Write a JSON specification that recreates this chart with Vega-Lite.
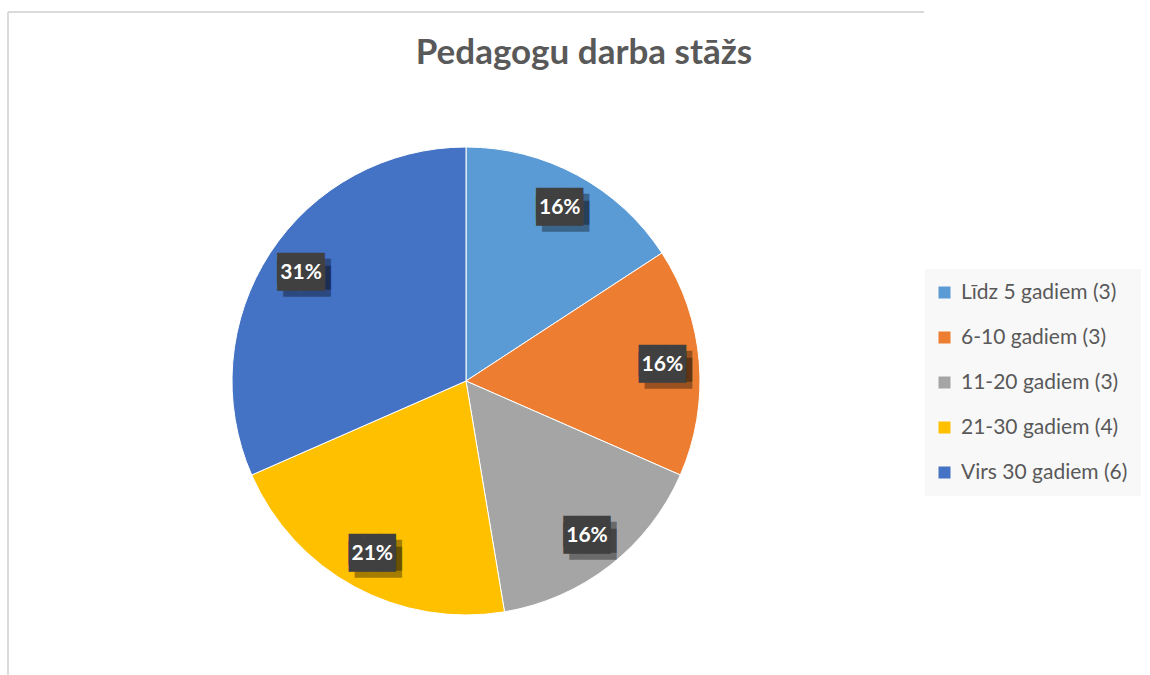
{
  "$schema": "https://vega.github.io/schema/vega-lite/v6.json",
  "width": 916,
  "height": 738,
  "autosize": {"type": "none"},
  "padding": {"left": 8, "top": 12, "right": 226, "bottom": -75},
  "background": "white",
  "view": {"stroke": "#d0d0d0", "strokeWidth": 1.5, "strokeDash": [916, 1654, 738, 0]},
  "title": {
    "text": "Pedagogu darba stāžs",
    "frame": "group",
    "anchor": "middle",
    "dx": 118,
    "offset": -87,
    "baseline": "alphabetic",
    "font": "Lato",
    "fontSize": 35,
    "fontWeight": "bold",
    "color": "#595959"
  },
  "data": {
    "values": [
      {"cat": "Līdz 5 gadiem (3)", "value": 3, "label": "16%", "ord": 1},
      {"cat": "6-10 gadiem (3)", "value": 3, "label": "16%", "ord": 2},
      {"cat": "11-20 gadiem (3)", "value": 3, "label": "16%", "ord": 3},
      {"cat": "21-30 gadiem (4)", "value": 4, "label": "21%", "ord": 4},
      {"cat": "Virs 30 gadiem (6)", "value": 6, "label": "31%", "ord": 5}
    ]
  },
  "encoding": {
    "theta": {"field": "value", "type": "quantitative", "stack": true},
    "order": {"field": "ord", "type": "quantitative"}
  },
  "layer": [
    {
      "mark": {"type": "arc", "outerRadius": 234, "stroke": "white", "strokeWidth": 1},
      "encoding": {
        "color": {
          "field": "cat",
          "type": "nominal",
          "sort": null,
          "scale": {
            "domain": ["Līdz 5 gadiem (3)", "6-10 gadiem (3)", "11-20 gadiem (3)", "21-30 gadiem (4)", "Virs 30 gadiem (6)"],
            "range": ["#5B9BD5", "#ED7D31", "#A5A5A5", "#FFC000", "#4472C4"]
          },
          "legend": {
            "title": null,
            "orient": "none",
            "legendX": 917,
            "legendY": 257,
            "fillColor": "#f8f8f8",
            "padding": 13,
            "symbolType": "square",
            "symbolSize": 144,
            "symbolStrokeWidth": 0,
            "symbolOffset": -4,
            "labelFont": "Lato",
            "labelFontSize": 21,
            "labelColor": "#595959",
            "labelOffset": 6,
            "rowPadding": 23,
            "labelLimit": 300
          }
        }
      }
    },
    {
      "mark": {"type": "text", "radius": 197, "font": "DejaVu Sans Mono", "fontSize": 26, "dx": 6, "dy": 2, "color": "black", "opacity": 0.35, "align": "center", "baseline": "middle"},
      "encoding": {"text": {"value": "███"}}
    },
    {
      "mark": {"type": "text", "radius": 197, "font": "DejaVu Sans Mono", "fontSize": 26, "dx": 6, "dy": 9, "color": "black", "opacity": 0.35, "align": "center", "baseline": "middle"},
      "encoding": {"text": {"value": "███"}}
    },
    {
      "mark": {"type": "text", "radius": 197, "font": "DejaVu Sans Mono", "fontSize": 26, "dy": -4, "color": "#404040", "align": "center", "baseline": "middle"},
      "encoding": {"text": {"value": "███"}}
    },
    {
      "mark": {"type": "text", "radius": 197, "font": "DejaVu Sans Mono", "fontSize": 26, "dy": 3, "color": "#404040", "align": "center", "baseline": "middle"},
      "encoding": {"text": {"value": "███"}}
    },
    {
      "mark": {"type": "text", "radius": 197, "font": "Lato", "fontSize": 21, "fontWeight": "bold", "color": "white", "align": "center", "baseline": "middle"},
      "encoding": {"text": {"field": "label"}}
    }
  ]
}
